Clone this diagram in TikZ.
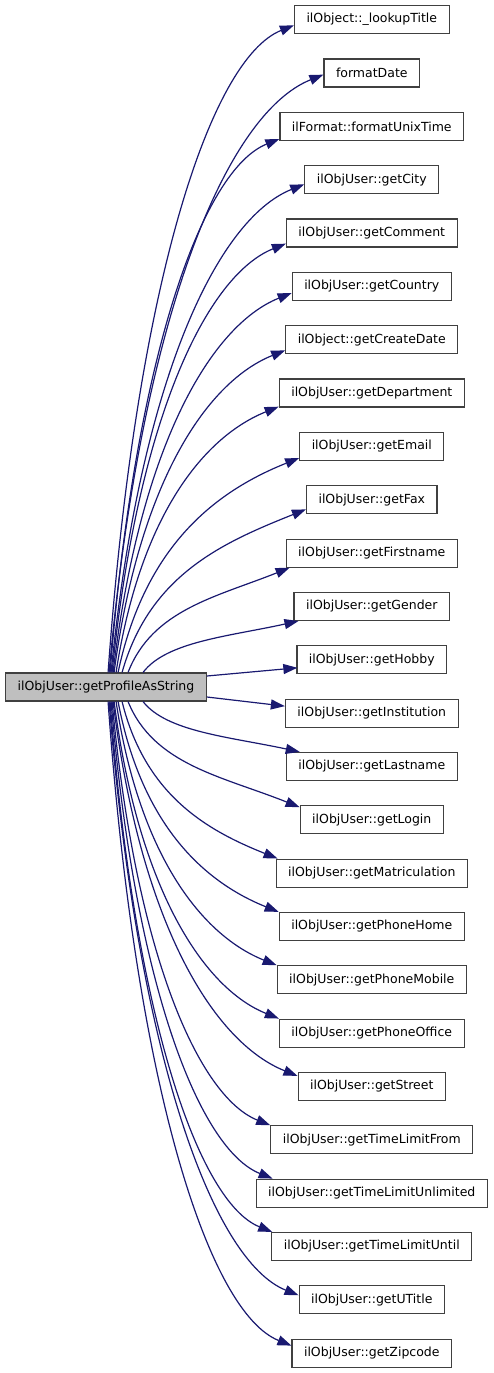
\documentclass[tikz,border=0pt]{standalone}
\usepackage{fontspec}
\setmainfont{DejaVu Sans}
\usetikzlibrary{calc,arrows.meta}
\definecolor{edgeblue}{HTML}{191970}
\definecolor{boxgray}{HTML}{BFBFBF}
\definecolor{bord}{HTML}{404040}
\begin{document}
\begin{tikzpicture}[x=1pt,y=-1pt,
  fn/.style={draw=bord, line width=1.2pt, fill=white, minimum height=28pt,
    inner xsep=12pt, inner ysep=0pt, font=\fontsize{12.5}{15}\selectfont, anchor=center},
  mainfn/.style={fn, fill=boxgray},
  edge/.style={draw=edgeblue, line width=1.2pt, -{Triangle[length=14pt,width=10pt]}}]
\useasboundingbox (0,0) rectangle (493,1373);
\node[mainfn] (m) at (106,687) {ilObjUser::getProfileAsString};
\foreach \k/\t in {0/ilObject::\_lookupTitle, 1/formatDate, 2/ilFormat::formatUnixTime,
  3/ilObjUser::getCity, 4/ilObjUser::getComment, 5/ilObjUser::getCountry,
  6/ilObject::getCreateDate, 7/ilObjUser::getDepartment, 8/ilObjUser::getEmail,
  9/ilObjUser::getFax, 10/ilObjUser::getFirstname, 11/ilObjUser::getGender,
  12/ilObjUser::getHobby, 13/ilObjUser::getInstitution, 14/ilObjUser::getLastname,
  15/ilObjUser::getLogin, 16/ilObjUser::getMatriculation, 17/ilObjUser::getPhoneHome,
  18/ilObjUser::getPhoneMobile, 19/ilObjUser::getPhoneOffice, 20/ilObjUser::getStreet,
  21/ilObjUser::getTimeLimitFrom, 22/ilObjUser::getTimeLimitUnlimited,
  23/ilObjUser::getTimeLimitUntil, 24/ilObjUser::getUTitle, 25/ilObjUser::getZipcode}
  \node[fn] (n\k) at (371.8,{19.7+53.34*\k}) {\t};
% edges to targets above
\foreach \k/\xs/\ex/\ey in {0/103/0/9, 1/104/0/13, 2/105/0/2, 3/106/0/10, 4/107/0/4,
  5/108/0/8, 6/109/0/4, 7/111/0/1, 8/113/0/3, 9/117/0/5, 10/123/4/0, 11/138/5/0}
  \draw[edge] let \p1=($(m.north west)+(\xs,0)$), \p2=($(n\k.south west)+(\ex,-\ey)$) in
    (\p1) .. controls ({\x1+0.15*(\x2-\x1)},{\y1+0.6*(\y2-\y1)})
    and ({\x2-0.45*(\x2-\x1)},{\y2-min(0.18*(\x2-\x1),0.3*(\y2-\y1))}) .. (\p2);
% edges to targets below
\foreach \k/\xs/\ex/\ey in {14/138/14/0, 15/123/0/2, 16/117/2/0, 17/113/0/0, 18/111/0/0,
  19/109/0/0, 20/108/0/4, 21/107/0/0, 22/106/17/0, 23/105/1/0, 24/104/0/10, 25/103/0/7}
  \draw[edge] let \p1=($(m.south west)+(\xs,0)$), \p2=($(n\k.north west)+(\ex,\ey)$) in
    (\p1) .. controls ({\x1+0.15*(\x2-\x1)},{\y1+0.6*(\y2-\y1)})
    and ({\x2-0.45*(\x2-\x1)},{\y2+min(0.18*(\x2-\x1),0.3*(\y1-\y2))}) .. (\p2);
% side edges
\draw[edge] ($(m.east)+(0,-11)$) -- ($(n12.west)+(1,8)$);
\draw[edge] ($(m.east)+(0,10)$) -- ($(n13.west)+(0,-7)$);
\end{tikzpicture}
\end{document}
